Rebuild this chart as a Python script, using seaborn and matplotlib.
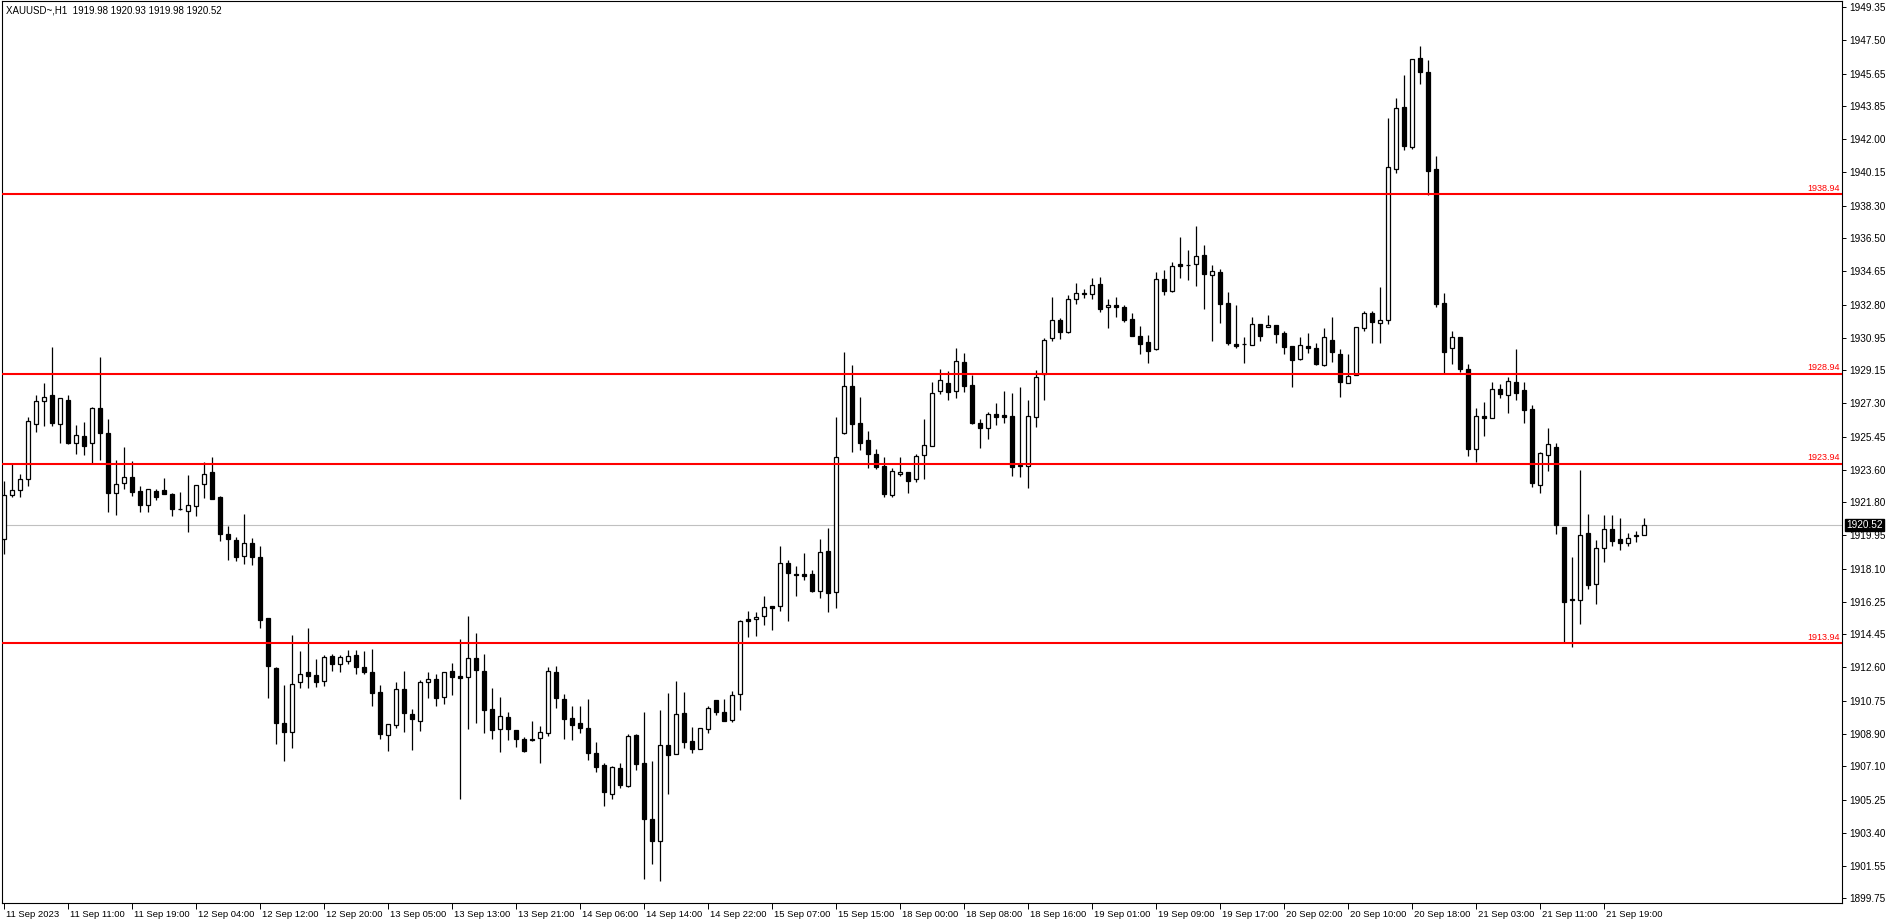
import numpy as np
import matplotlib
matplotlib.use("Agg")
import matplotlib.pyplot as plt
import matplotlib.transforms as mtransforms
import seaborn as sns

# XAUUSD H1, 11-21 Sep 2023
opens = [1919.73, 1922.20, 1922.46, 1923.07, 1926.17, 1927.41, 1927.74, 1926.17, 1927.47, 1925.11,
         1925.46, 1925.11, 1927.02, 1925.63, 1922.33, 1922.85, 1923.20, 1922.40, 1921.62, 1922.42,
         1922.46, 1922.25, 1921.42, 1921.29, 1921.57, 1922.79, 1923.46, 1922.09, 1920.03, 1919.69,
         1918.79, 1919.51, 1918.73, 1915.33, 1912.55, 1909.49, 1908.99, 1911.77, 1912.33, 1912.18,
         1911.83, 1913.22, 1912.77, 1912.94, 1913.27, 1912.61, 1912.33, 1911.22, 1908.82, 1909.38,
         1911.40, 1909.99, 1909.60, 1911.77, 1911.94, 1910.94, 1912.38, 1912.11, 1912.05, 1913.11,
         1912.38, 1910.27, 1909.16, 1909.83, 1909.10, 1908.60, 1908.60, 1908.66, 1908.94, 1912.33,
         1910.83, 1909.77, 1909.49, 1909.21, 1907.82, 1907.17, 1905.54, 1906.99, 1906.02, 1908.82,
         1907.26, 1904.15, 1902.92, 1908.27, 1907.76, 1910.05, 1908.49, 1908.04, 1909.15, 1910.77,
         1910.10, 1909.66, 1911.10, 1915.28, 1915.28, 1915.45, 1916.00, 1916.00, 1918.40, 1917.78,
         1917.78, 1917.78, 1916.87, 1919.06, 1916.80, 1925.67, 1928.25, 1926.19, 1925.26, 1924.48,
         1923.81, 1922.22, 1923.35, 1923.46, 1923.07, 1924.41, 1924.95, 1927.97, 1928.42, 1927.97,
         1929.58, 1928.30, 1926.19, 1925.91, 1926.69, 1926.63, 1926.58, 1923.87, 1923.80, 1926.52,
         1928.92, 1930.92, 1931.92, 1931.25, 1933.09, 1933.41, 1933.37, 1933.93, 1932.64, 1932.76,
         1932.64, 1931.98, 1931.03, 1930.70, 1930.34, 1934.20, 1933.53, 1935.04, 1934.99, 1935.04,
         1935.54, 1934.43, 1934.59, 1932.87, 1930.60, 1930.58, 1930.53, 1931.70, 1931.53, 1931.64,
         1931.20, 1930.47, 1929.79, 1930.47, 1930.36, 1929.45, 1930.81, 1930.03, 1928.45, 1928.90,
         1931.48, 1932.31, 1931.75, 1931.92, 1940.33, 1943.78, 1941.55, 1946.50, 1945.72, 1940.33,
         1932.91, 1930.40, 1931.01, 1929.22, 1924.77, 1926.60, 1926.49, 1928.12, 1927.74, 1928.50,
         1928.03, 1926.96, 1922.78, 1924.44, 1924.88, 1920.44, 1916.39, 1916.33, 1920.08, 1917.26,
         1919.27, 1920.28, 1919.74, 1919.54, 1919.92, 1919.98]
highs = [1922.98, 1923.90, 1923.37, 1926.52, 1927.76, 1928.43, 1930.43, 1927.58, 1927.76, 1926.07,
         1926.24, 1927.09, 1929.88, 1926.41, 1924.14, 1924.85, 1924.07, 1922.70, 1922.51, 1922.51,
         1923.12, 1922.29, 1922.35, 1923.29, 1922.74, 1924.05, 1924.32, 1922.14, 1920.47, 1919.84,
         1921.14, 1919.81, 1919.36, 1915.33, 1912.64, 1911.62, 1914.41, 1913.52, 1914.78, 1913.07,
         1913.29, 1913.33, 1913.29, 1913.57, 1913.57, 1913.52, 1913.63, 1911.61, 1909.43, 1911.77,
         1912.40, 1910.27, 1911.90, 1912.35, 1912.24, 1912.33, 1912.85, 1914.19, 1915.46, 1914.52,
         1913.33, 1911.44, 1910.94, 1910.10, 1909.10, 1908.71, 1909.60, 1909.32, 1912.61, 1912.66,
         1911.12, 1910.44, 1910.44, 1910.83, 1908.43, 1907.26, 1907.10, 1907.26, 1908.88, 1908.88,
         1910.12, 1907.38, 1910.21, 1911.16, 1911.83, 1911.22, 1909.27, 1909.21, 1910.45, 1910.77,
         1910.83, 1911.27, 1915.24, 1915.74, 1915.69, 1916.58, 1916.00, 1919.36, 1918.58, 1918.23,
         1918.97, 1918.03, 1919.73, 1920.34, 1926.54, 1930.16, 1929.44, 1927.65, 1925.76, 1924.76,
         1924.32, 1923.70, 1924.32, 1923.46, 1924.46, 1926.43, 1928.47, 1929.19, 1929.08, 1930.36,
         1930.09, 1928.86, 1926.41, 1926.82, 1927.32, 1927.99, 1927.88, 1928.19, 1927.49, 1929.14,
         1930.92, 1933.20, 1932.03, 1933.31, 1933.98, 1933.65, 1934.26, 1934.32, 1933.09, 1933.20,
         1932.76, 1932.31, 1931.61, 1931.10, 1934.59, 1934.70, 1935.15, 1936.54, 1935.82, 1937.15,
         1936.10, 1934.98, 1934.76, 1933.48, 1932.76, 1930.97, 1932.09, 1931.70, 1932.20, 1931.64,
         1931.31, 1930.47, 1930.97, 1931.20, 1930.64, 1931.48, 1932.11, 1930.31, 1930.03, 1931.53,
         1932.46, 1932.46, 1933.78, 1943.17, 1944.28, 1945.58, 1946.45, 1947.19, 1946.39, 1941.04,
         1933.47, 1931.34, 1931.01, 1929.51, 1927.03, 1927.36, 1928.50, 1928.39, 1928.79, 1930.31,
         1928.50, 1927.19, 1924.59, 1925.91, 1925.09, 1920.44, 1918.74, 1923.57, 1921.13, 1919.72,
         1921.06, 1921.06, 1920.91, 1920.08, 1920.17, 1920.93]
lows = [1918.91, 1922.07, 1922.07, 1922.72, 1925.72, 1926.06, 1926.06, 1925.11, 1925.05, 1924.50,
        1924.42, 1923.96, 1924.16, 1921.27, 1921.10, 1922.53, 1922.16, 1921.23, 1921.25, 1921.94,
        1922.23, 1921.01, 1921.38, 1920.12, 1921.01, 1922.05, 1921.95, 1919.66, 1918.60, 1918.54,
        1918.38, 1918.32, 1914.81, 1910.92, 1908.36, 1907.41, 1908.14, 1911.44, 1911.44, 1911.53,
        1911.59, 1912.42, 1912.35, 1912.81, 1912.25, 1912.22, 1910.47, 1908.64, 1907.97, 1909.25,
        1909.03, 1908.02, 1909.06, 1910.92, 1910.47, 1910.59, 1911.09, 1905.30, 1909.20, 1909.53,
        1908.97, 1908.64, 1907.91, 1908.58, 1908.19, 1907.91, 1908.53, 1907.30, 1908.77, 1910.36,
        1908.64, 1908.58, 1908.97, 1907.47, 1906.80, 1904.91, 1905.30, 1905.87, 1905.96, 1906.91,
        1900.81, 1901.68, 1900.73, 1905.58, 1907.76, 1908.14, 1907.86, 1908.04, 1908.97, 1909.97,
        1909.60, 1909.58, 1910.21, 1914.31, 1914.37, 1914.96, 1914.70, 1915.76, 1915.20, 1916.60,
        1917.49, 1916.82, 1916.49, 1915.71, 1915.90, 1925.61, 1924.58, 1924.72, 1923.68, 1923.63,
        1922.11, 1922.11, 1923.24, 1922.33, 1922.94, 1923.11, 1924.95, 1927.80, 1927.47, 1927.58,
        1927.91, 1926.17, 1924.83, 1925.34, 1926.12, 1926.23, 1923.28, 1923.22, 1922.61, 1926.00,
        1927.47, 1930.75, 1930.86, 1931.20, 1932.81, 1933.15, 1933.09, 1932.40, 1931.51, 1932.12,
        1931.85, 1931.07, 1930.07, 1929.56, 1930.29, 1933.31, 1933.48, 1934.30, 1934.19, 1933.85,
        1932.53, 1930.79, 1931.79, 1930.57, 1930.40, 1929.56, 1930.53, 1930.79, 1931.53, 1930.68,
        1930.07, 1928.23, 1929.73, 1930.12, 1929.45, 1929.40, 1929.62, 1927.67, 1928.45, 1928.90,
        1931.31, 1930.68, 1930.68, 1931.70, 1940.10, 1941.38, 1941.44, 1945.06, 1938.92, 1932.68,
        1928.95, 1929.49, 1929.06, 1924.37, 1924.01, 1925.49, 1926.49, 1927.61, 1926.76, 1927.50,
        1926.20, 1922.65, 1922.31, 1923.54, 1920.03, 1913.96, 1913.76, 1915.03, 1916.97, 1916.15,
        1918.47, 1919.37, 1919.14, 1919.34, 1919.61, 1919.98]
closes = [1922.20, 1922.46, 1923.07, 1926.31, 1927.41, 1927.63, 1926.22, 1927.58, 1925.11, 1925.56,
          1924.94, 1927.04, 1925.63, 1922.33, 1922.79, 1923.20, 1922.38, 1921.62, 1922.51, 1922.10,
          1922.27, 1921.40, 1921.40, 1921.62, 1922.74, 1923.38, 1922.00, 1920.05, 1919.77, 1918.73,
          1919.51, 1918.73, 1915.26, 1912.70, 1909.53, 1908.99, 1911.66, 1912.22, 1912.14, 1911.77,
          1913.16, 1912.77, 1913.16, 1913.22, 1912.64, 1912.33, 1911.16, 1908.88, 1909.43, 1911.40,
          1910.05, 1909.71, 1911.77, 1911.94, 1910.92, 1912.33, 1912.05, 1911.99, 1913.11, 1912.44,
          1910.21, 1909.10, 1909.88, 1909.16, 1908.60, 1907.93, 1908.58, 1908.99, 1912.38, 1910.92,
          1909.71, 1909.42, 1909.21, 1907.86, 1907.08, 1905.65, 1907.04, 1906.04, 1908.77, 1907.24,
          1904.18, 1902.96, 1908.27, 1907.75, 1909.99, 1908.47, 1908.04, 1909.21, 1910.32, 1910.10,
          1909.60, 1911.05, 1915.18, 1915.20, 1915.39, 1915.95, 1915.93, 1918.40, 1917.84, 1917.76,
          1917.71, 1916.87, 1919.01, 1916.76, 1924.30, 1928.25, 1926.17, 1925.11, 1924.50, 1923.78,
          1922.27, 1923.52, 1923.46, 1923.00, 1924.35, 1924.96, 1927.86, 1928.58, 1927.91, 1929.64,
          1928.25, 1926.23, 1925.95, 1926.69, 1926.56, 1926.56, 1923.78, 1923.83, 1926.58, 1928.75,
          1930.81, 1931.92, 1931.25, 1933.09, 1933.43, 1933.43, 1933.87, 1932.53, 1932.76, 1932.64,
          1931.96, 1931.07, 1930.62, 1930.23, 1934.20, 1933.53, 1934.93, 1934.96, 1935.01, 1935.52,
          1934.52, 1934.65, 1932.85, 1930.68, 1930.51, 1930.60, 1931.70, 1931.07, 1931.64, 1931.14,
          1930.46, 1929.73, 1930.53, 1930.40, 1929.51, 1930.97, 1930.18, 1928.51, 1928.84, 1931.53,
          1932.31, 1931.81, 1931.92, 1940.44, 1943.72, 1941.61, 1946.45, 1945.72, 1940.21, 1932.82,
          1930.18, 1931.01, 1929.22, 1924.77, 1926.60, 1926.49, 1928.10, 1927.83, 1928.55, 1927.88,
          1926.94, 1922.87, 1924.53, 1925.02, 1920.55, 1916.26, 1916.35, 1919.95, 1917.20, 1919.27,
          1920.28, 1919.65, 1919.54, 1919.83, 1919.98, 1920.52]

time_labels = ["11 Sep 2023", "11 Sep 11:00", "11 Sep 19:00", "12 Sep 04:00", "12 Sep 12:00",
               "12 Sep 20:00", "13 Sep 05:00", "13 Sep 13:00", "13 Sep 21:00", "14 Sep 06:00",
               "14 Sep 14:00", "14 Sep 22:00", "15 Sep 07:00", "15 Sep 15:00", "18 Sep 00:00",
               "18 Sep 08:00", "18 Sep 16:00", "19 Sep 01:00", "19 Sep 09:00", "19 Sep 17:00",
               "20 Sep 02:00", "20 Sep 10:00", "20 Sep 18:00", "21 Sep 03:00", "21 Sep 11:00",
               "21 Sep 19:00"]
price_ticks = [1949.35, 1947.50, 1945.65, 1943.85, 1942.00, 1940.15, 1938.30, 1936.50, 1934.65,
               1932.80, 1930.95, 1929.15, 1927.30, 1925.45, 1923.60, 1921.80, 1919.95, 1918.10,
               1916.25, 1914.45, 1912.60, 1910.75, 1908.90, 1907.10, 1905.25, 1903.40, 1901.55,
               1899.75]
levels = [1938.94, 1928.94, 1923.94, 1913.94]
last_price = 1920.52
title = "XAUUSD~,H1  1919.98 1920.93 1919.98 1920.52"

sns.set_theme(style="white")
plt.rcParams['font.family'] = ['Liberation Sans', 'DejaVu Sans']

W, H = 1888, 923
fig = plt.figure(figsize=(W / 100, H / 100), dpi=100)
fig.patch.set_facecolor("white")
# plot area in pixels: x 1.5..1842, y 1..903 from top
ax = fig.add_axes([1.5 / W, (H - 903) / H, (1842 - 1.5) / W, 902 / H])
ax.set_facecolor("white")

o = np.array(opens)
h = np.array(highs)
l = np.array(lows)
c = np.array(closes)
x = np.arange(len(o))
up = c >= o

ax.vlines(x, l, h, color="black", linewidth=0.9, zorder=2)
body_lo = np.minimum(o, c)
body_h = np.maximum(np.abs(c - o), 0.02)
ax.bar(x[up], body_h[up], bottom=body_lo[up], width=0.5, color="white",
       edgecolor="black", linewidth=0.9, zorder=3)
ax.bar(x[~up], body_h[~up], bottom=body_lo[~up], width=0.5, color="black",
       edgecolor="black", linewidth=0.9, zorder=3)

# bid line
ax.axhline(last_price, color="#C0C0C0", linewidth=0.8, zorder=1)

# horizontal levels with their price labels
trans = mtransforms.blended_transform_factory(ax.transAxes, ax.transData)
for lv in levels:
    ax.axhline(lv, color="#FF0000", linewidth=1.5, zorder=4)
    ax.text(0.999, lv + 0.08, f"{lv:.2f}", transform=trans, ha="right", va="bottom",
            color="#FF0000", fontsize=6.5, zorder=5)

ax.set_xlim(-0.25, 229.81)
ax.set_ylim(1899.49, 1949.695)

ax.yaxis.tick_right()
ax.set_yticks(price_ticks)
ax.set_yticklabels([f"{v:.2f}" for v in price_ticks])
ax.tick_params(axis="y", which="both", right=True, left=False, direction="out",
               length=3, width=0.7, pad=2, labelsize=7.2, colors="black")

ax.set_xticks(np.arange(len(time_labels)) * 8)
ax.set_xticklabels(time_labels)
ax.tick_params(axis="x", which="both", bottom=True, direction="out", length=4,
               width=0.7, pad=1, labelsize=6.8, colors="black")
for lab in ax.get_xticklabels():
    lab.set_horizontalalignment("left")
    lab.set_transform(lab.get_transform() + mtransforms.ScaledTranslation(2 / 100, 0, fig.dpi_scale_trans))

for sp in ax.spines.values():
    sp.set_visible(True)
    sp.set_color("black")
    sp.set_linewidth(0.8)
ax.grid(False)

# current price tag on the price scale
ax.annotate(f"{last_price:.2f}", xy=(1.0, last_price), xycoords=trans,
            xytext=(3, 0), textcoords="offset points", ha="left", va="center",
            fontsize=7.2, color="white",
            bbox=dict(boxstyle="square,pad=0.12", fc="black", ec="black"),
            annotation_clip=False, zorder=6)

ax.text(0.0025, 0.995, title, transform=ax.transAxes, ha="left", va="top",
        fontsize=7, color="black")

fig.savefig("out.png", dpi=100, facecolor="white")
